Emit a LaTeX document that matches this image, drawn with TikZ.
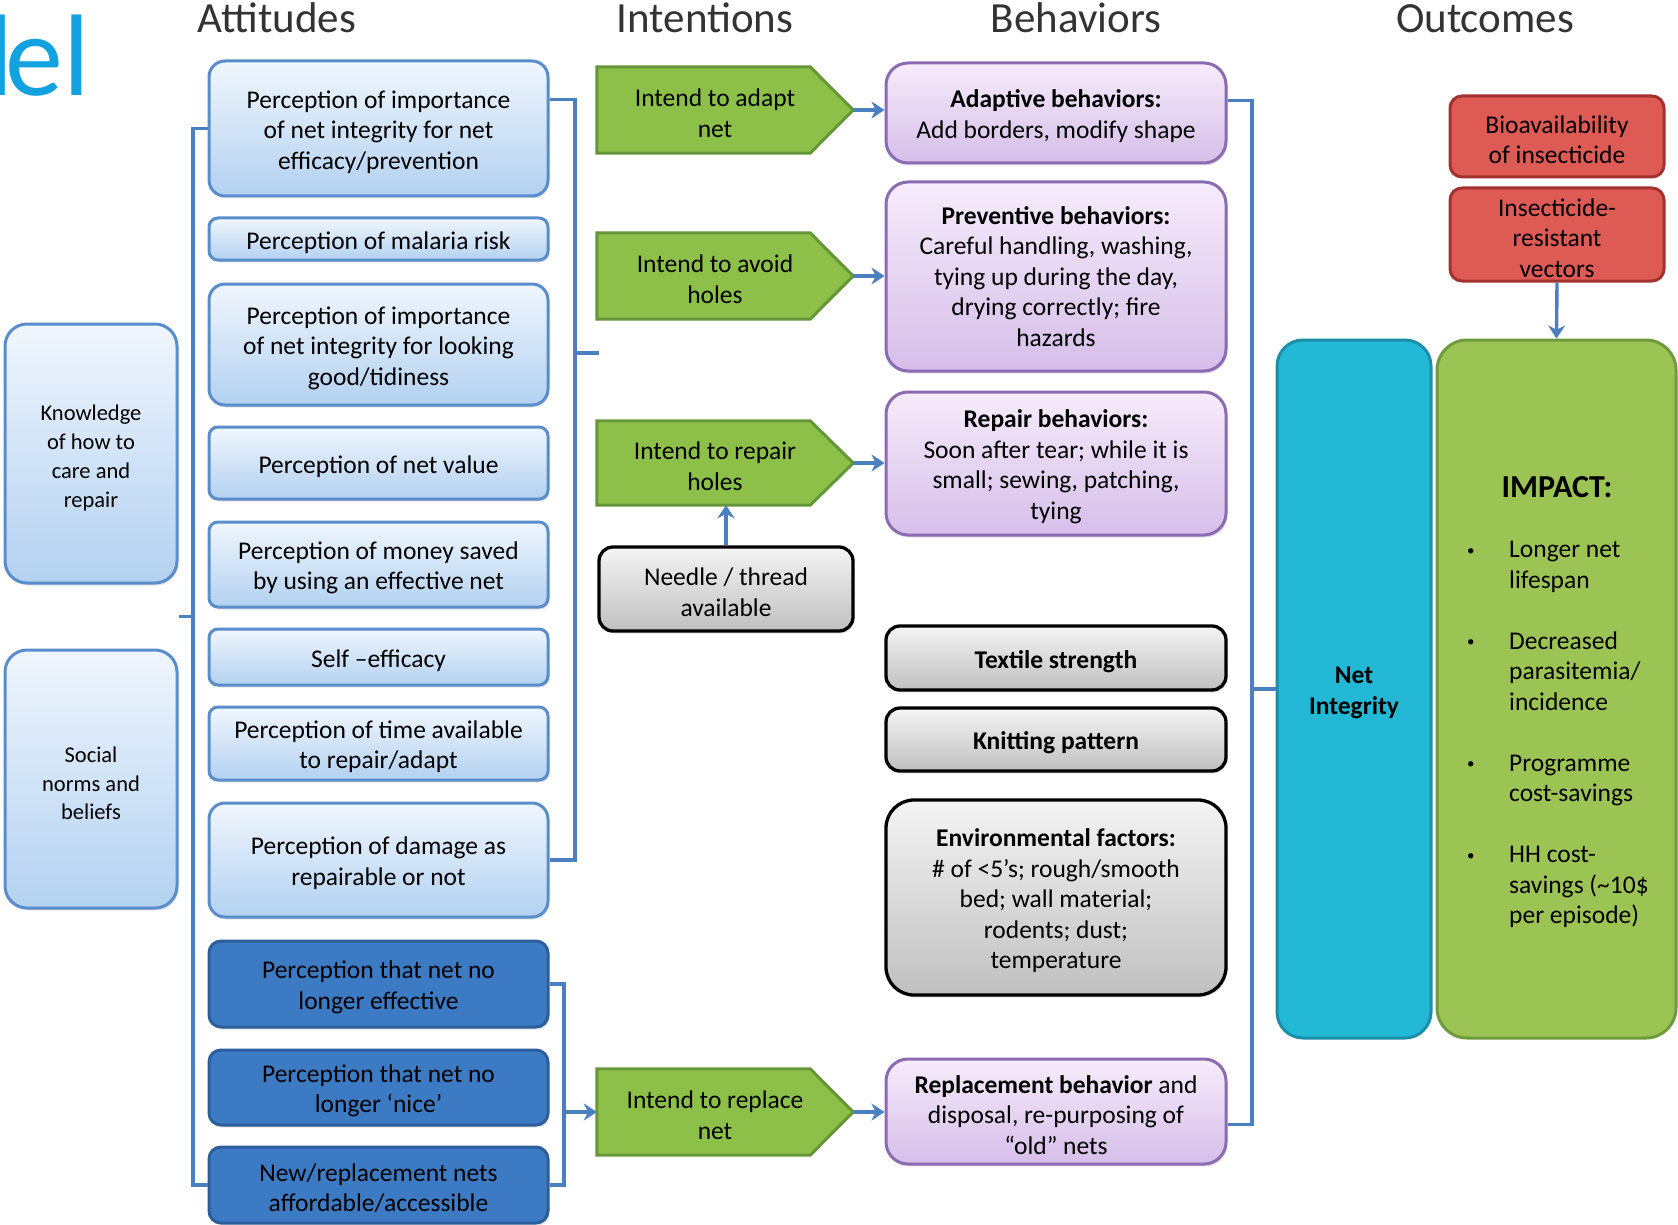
\documentclass[tikz,border=0pt]{standalone}
\usepackage{fontspec}
\setmainfont{Carlito}
\usetikzlibrary{calc,arrows.meta,shadows,backgrounds}
\definecolor{attB}{HTML}{5A8DCB}
\definecolor{attT}{HTML}{F0F6FD}
\definecolor{attD}{HTML}{B3D1F1}
\definecolor{dkF}{HTML}{3C7BC4}
\definecolor{dkB}{HTML}{2C5E9C}
\definecolor{grF}{HTML}{8DC049}
\definecolor{grB}{HTML}{66963A}
\definecolor{puT}{HTML}{F6ECFB}
\definecolor{puD}{HTML}{D6BEE9}
\definecolor{puB}{HTML}{8B6BB1}
\definecolor{gyT}{HTML}{F4F4F4}
\definecolor{gyD}{HTML}{C0C0C0}
\definecolor{rdF}{HTML}{DE5A55}
\definecolor{rdB}{HTML}{A3322F}
\definecolor{niF}{HTML}{22B8D6}
\definecolor{niB}{HTML}{1C8EA8}
\definecolor{imF}{HTML}{9CC455}
\definecolor{imB}{HTML}{6E9B3C}
\definecolor{cnC}{HTML}{4A7FC0}
\definecolor{ttl}{HTML}{13A2E0}
\definecolor{hdr}{HTML}{333333}
\newcommand\fsbox{\fontsize{25.5}{30.5}\selectfont}
\newcommand\fssmall{\fontsize{22.5}{28.8}\selectfont}
\newcommand\fl{\rule{0pt}{24.5pt}}
\newcommand\bulletmark{\raisebox{2.5pt}{\fontsize{15}{15}\selectfont\textbullet}}
\begin{document}
\begin{tikzpicture}[x=1pt,y=-1pt,
  every node/.style={inner sep=2pt, align=center, text=black},
  tdown/.style={execute at begin node={\rule{0pt}{24.5pt}}},
  shad/.style={drop shadow={shadow xshift=1.5pt, shadow yshift=-2.5pt, opacity=0.22}},
  att/.style={draw=attB, line width=3pt, top color=attT, bottom color=attD, rounded corners=16pt, font=\fsbox, shad, tdown},
  attsm/.style={att, rounded corners=9pt},
  dark/.style={draw=dkB, line width=3pt, fill=dkF, rounded corners=12pt, font=\fsbox, shad, tdown},
  intn/.style={font=\fsbox, minimum width=236pt, tdown},
  pent/.style={draw=grB, line width=3pt, fill=grF, line join=miter},
  beh/.style={draw=puB, line width=3pt, top color=puT, bottom color=puD, rounded corners=22pt, font=\fsbox, shad, tdown},
  gry/.style={draw=black, line width=3.3pt, top color=gyT, bottom color=gyD, rounded corners=14pt, font=\fsbox, shad, tdown},
  redbox/.style={draw=rdB, line width=3pt, fill=rdF, rounded corners=12pt, font=\fsbox, tdown},
  conn/.style={draw=cnC, line width=3.4pt},
  arr/.style={conn, -{Stealth[length=13pt,width=17pt]}},
  hdrs/.style={font=\fontsize{43}{50}\selectfont, text=hdr, anchor=base}
]
\useasboundingbox (0,0) rectangle (1678,1225);

% title fragment and headers
\node[font=\fontsize{116}{120}\selectfont, text=ttl, anchor=base east, inner sep=0pt] (ttlnode) at (90,96) {d\kern-8pt el};
\node[hdrs] (hA) at (277,33) {Attitudes};
\node[hdrs] (hI) at (705,33) {Intentions};
\node[hdrs] (hB) at (1076,33) {Behaviors};
\node[hdrs] (hO) at (1485,33) {Outcomes};

% left boxes
\node[att, minimum width=172pt, minimum height=259pt, font=\fssmall, rounded corners=22pt] (k) at (91,453.5) {\fl Knowledge\\of how to\\care and\\repair};
\node[att, minimum width=172pt, minimum height=258pt, font=\fssmall, rounded corners=22pt] (s) at (91,779) {\fl Social\\norms and\\beliefs};

% attitudes
\node[att, minimum width=339pt, minimum height=135pt] (a1) at (378.5,128.5) {\fl Perception of importance\\of net integrity for net\\efficacy/prevention};
\node[attsm, minimum width=339pt, minimum height=42pt] (a2) at (378.5,239) {Perception of malaria risk};
\node[att, minimum width=339pt, minimum height=121pt] (a3) at (378.5,344.5) {\fl Perception of importance\\of net integrity for looking\\good/tidiness};
\node[attsm, minimum width=339pt, minimum height=72pt] (a4) at (378.5,463) {Perception of net value};
\node[attsm, minimum width=339pt, minimum height=85pt] (a5) at (378.5,564.5) {\fl Perception of money saved\\by using an effective net};
\node[attsm, minimum width=339pt, minimum height=56pt] (a6) at (378.5,657) {Self –efficacy};
\node[attsm, minimum width=339pt, minimum height=73pt] (a7) at (378.5,743.5) {\fl Perception of time available\\to repair/adapt};
\node[att, minimum width=339pt, minimum height=114pt] (a8) at (378.5,860) {\fl Perception of damage as\\repairable or not};
\node[dark, minimum width=339pt, minimum height=86pt] (d1) at (378.5,984) {\fl Perception that net no\\longer effective};
\node[dark, minimum width=339pt, minimum height=75pt] (d2) at (378.5,1087.5) {\fl Perception that net no\\longer ‘nice’};
\node[dark, minimum width=339pt, minimum height=76pt] (d3) at (378.5,1185) {\fl New/replacement nets\\affordable/accessible};

% intentions (text nodes; pentagons drawn on background)
\node[intn, minimum height=86pt] (i1) at (715,110) {\fl Intend to adapt\\net};
\node[intn, minimum height=86pt] (i2) at (715,276) {\fl Intend to avoid\\holes};
\node[intn, minimum height=84pt] (i3) at (715,463) {\fl Intend to repair\\holes};
\node[intn, minimum height=86pt] (i4) at (715,1112) {\fl Intend to replace\\net};
\foreach \n in {i1,i2,i3,i4}{\coordinate (\n t) at ($(\n.east)+(20,0)$);}

\node[gry, minimum width=254pt, minimum height=84pt] (nd) at (726,589) {\fl Needle / thread\\available};

% behaviours
\node[beh, minimum width=340pt, minimum height=100pt] (b1) at (1056,113) {\fl\textbf{Adaptive behaviors:}\\Add borders, modify shape};
\node[beh, minimum width=340pt, minimum height=189pt] (b2) at (1056,276.5) {\textbf{Preventive behaviors:}\\Careful handling, washing,\\tying up during the day,\\drying correctly; fire\\hazards};
\node[beh, minimum width=340pt, minimum height=143pt] (b3) at (1056,463.5) {\fl\textbf{Repair behaviors:}\\Soon after tear; while it is\\small; sewing, patching,\\tying};
\node[gry, minimum width=340pt, minimum height=64pt] (g1) at (1056,658) {\textbf{Textile strength}};
\node[gry, minimum width=340pt, minimum height=63pt] (g2) at (1056,739.5) {\textbf{Knitting pattern}};
\node[gry, minimum width=340pt, minimum height=195pt, rounded corners=28pt] (g3) at (1056,897.5) {\fl\textbf{Environmental factors:}\\\# of <5’s; rough/smooth\\bed; wall material;\\rodents; dust;\\temperature};
\node[beh, minimum width=340pt, minimum height=105pt] (b4) at (1056,1111.5) {\fl\textbf{Replacement behavior} and\\disposal, re-purposing of\\“old” nets};

% outcomes
\node[draw=niB, line width=3pt, fill=niF, rounded corners=26pt, minimum width=154pt, minimum height=698pt, font=\bfseries\fsbox, tdown] (ni) at (1354,689) {\fl Net\\Integrity};
\node[draw=imB, line width=3pt, fill=imF, rounded corners=30pt, minimum width=239pt, minimum height=698pt] (imp) at (1556.5,689) {};
\node[font=\bfseries\fontsize{32}{38}\selectfont, anchor=base, inner sep=0pt] (imt) at (1557,497) {IMPACT:};
\node[font=\fsbox, anchor=north west, inner sep=0pt] (imlist) at (1467,536) {\begin{tabular}{@{}p{42pt}@{}l@{}}
\bulletmark & Longer net\\
 & lifespan\\
 & \\
\bulletmark & Decreased\\
 & parasitemia/\\
 & incidence\\
 & \\
\bulletmark & Programme\\
 & cost-savings\\
 & \\
\bulletmark & HH cost-\\
 & savings (\textasciitilde10\$\\
 & per episode)
\end{tabular}};
\node[redbox, minimum width=214pt, minimum height=81pt] (r1) at (1557,136.5) {\fl Bioavailability\\of insecticide};
\node[redbox, minimum width=214pt, minimum height=93pt] (r2) at (1557,234.5) {\fl Insecticide-\\resistant\\vectors};

% background layer: white page and pentagons
\begin{scope}[on background layer]
\fill[white] (0,0) rectangle (1678,1225);
\foreach \n in {i1,i2,i3,i4}{
  \draw[pent] (\n.north west) -- ($(\n.north east)+(-23,0)$) -- (\n t) -- ($(\n.south east)+(-23,0)$) -- (\n.south west) -- cycle;
}
\end{scope}

% left bracket
\coordinate (lbar) at (193,0);
\draw[conn] (a1.west) -- (a1.west -| lbar) -- (d3.west -| lbar) -- (d3.west);
\coordinate (kst) at ($(k.south east)!0.5!(s.north east)$);
\draw[conn] (kst) -- (kst -| lbar);

% attitudes right bracket
\coordinate (rbar) at (575,0);
\coordinate (a1c) at ($(a1.north east)!0.29!(a1.south east)$);
\draw[conn] (a1c) -- (a1c -| rbar) -- (a8.east -| rbar) -- (a8.east);
\coordinate (rst) at (599,353);
\draw[conn] (rst -| rbar) -- (rst);

% dark bracket
\coordinate (dbar) at (564,0);
\draw[conn] (d1.east) -- (d1.east -| dbar) -- (d3.east -| dbar) -- (d3.east);
\draw[arr] (i4.west -| dbar) -- (i4.west);

% intentions to behaviours
\draw[arr] (i1t) -- (i1t -| b1.west);
\draw[arr] (i2t) -- (i2t -| b2.west);
\draw[arr] (i3t) -- (i3t -| b3.west);
\draw[arr] (i4t) -- (i4t -| b4.west);
\draw[arr] (nd.north) -- (nd.north |- i3.south);

% behaviours bracket
\coordinate (bbar) at (1252,0);
\coordinate (b1c) at ($(b1.north east)!0.38!(b1.south east)$);
\coordinate (b4c) at ($(b4.north east)!0.62!(b4.south east)$);
\draw[conn] (b1c) -- (b1c -| bbar) -- (b4c -| bbar) -- (b4c);
\draw[conn] (ni.west -| bbar) -- (ni.west);

% red to impact
\draw[arr] (r2.south) -- (imp.north);
\end{tikzpicture}
\end{document}
